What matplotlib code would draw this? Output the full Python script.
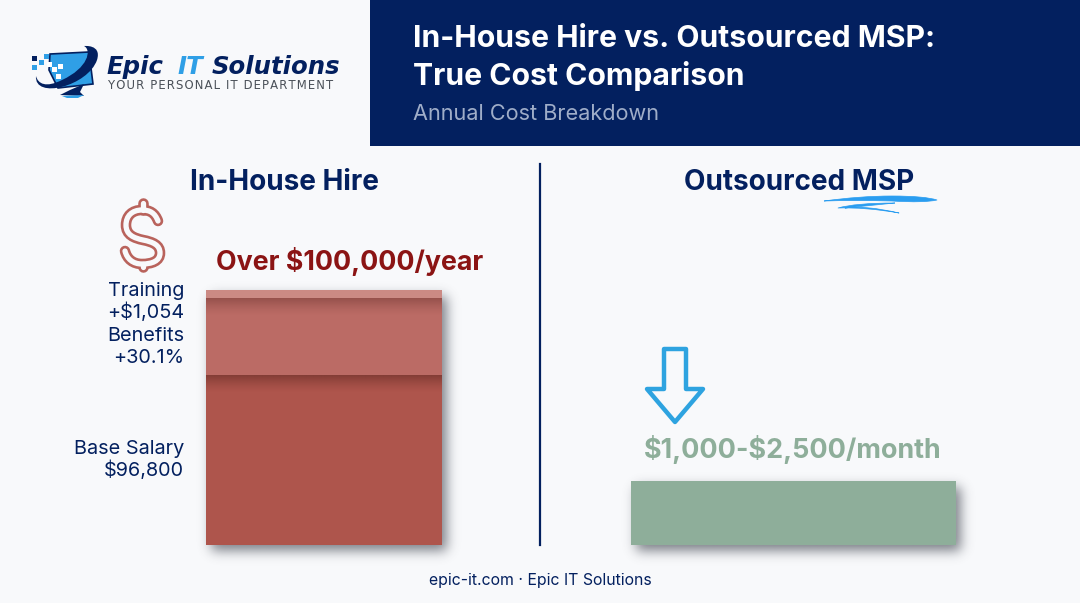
import math
import numpy as np
import matplotlib
matplotlib.use("Agg")
import matplotlib.pyplot as plt
from matplotlib.colors import to_rgb
from matplotlib.patches import Rectangle, Polygon, PathPatch
from matplotlib.path import Path

# bar heights (drawing units, the bars are not to scale with the labels)
inhouse_segments = ["Base Salary", "Benefits", "Training"]
inhouse_heights = [170, 77, 8]
inhouse_colors = ["#ae554c", "#bb6b65", "#cb8a84"]
msp_height = [64]
msp_color = "#8eae9a"

title_lines = ["In-House Hire vs. Outsourced MSP:", "True Cost Comparison"]
subtitle = "Annual Cost Breakdown"
left_head = "In-House Hire"
right_head = "Outsourced MSP"
left_total = r"Over \$100,000/year"
right_total = r"\$1,000-\$2,500/month"
left_labels = ["Training\n+\\$1,054", "Benefits\n+30.1%", "Base Salary\n\\$96,800"]
footer = "epic-it.com · Epic IT Solutions"

NAVY = "#03205f"
BG = "#f8f9fb"
BLUE = "#2f9fe6"
plt.rcParams["font.family"] = ["Inter", "DejaVu Sans"]

fig = plt.figure(figsize=(10.8, 6.03), dpi=100, facecolor=BG)


def pixel_axes(z):
    a = fig.add_axes([0, 0, 1, 1], zorder=z)
    a.axis("off")
    a.patch.set_alpha(0)
    return a


def set_pixels(a):
    a.set_xlim(0, 1080)
    a.set_ylim(603, 0)


ax = pixel_axes(1)
top = pixel_axes(3)

# bars axes: baseline at the bottom of the bars
bar_ax = fig.add_axes([0, (603 - 545) / 603, 1, 545 / 603], zorder=2)
bar_ax.set_xlim(0, 1080)
bar_ax.set_ylim(0, 545)
bar_ax.axis("off")
bar_ax.patch.set_alpha(0)

erf = np.vectorize(math.erf)


def soft_shadow(a, x0, y0, x1, y1, dx=5, dy=6, sigma=8.5, strength=0.66):
    # blurred rectangle, offset to the lower right
    xs = np.arange(x0 - 25, x1 + 40)
    ys = np.arange(y0 - 25, y1 + 40)
    sx = 0.5 * (erf((xs - x0 - dx) / sigma) - erf((xs - x1 - dx) / sigma))
    sy = 0.5 * (erf((ys - y0 - dy) / sigma) - erf((ys - y1 - dy) / sigma))
    img = np.zeros((len(ys), len(xs), 4))
    img[..., :3] = to_rgb("#3a3f4a")
    img[..., 3] = strength * np.outer(sy, sx)
    a.imshow(img, extent=(xs[0], xs[-1], ys[-1], ys[0]), aspect="auto", zorder=0, interpolation="bilinear")


def inner_shade(a, x0, x1, y0, depth, alpha):
    # dark band fading downwards under a segment edge
    ramp = np.linspace(1, 0, depth) ** 1.4
    img = np.zeros((depth, 1, 4))
    img[..., :3] = to_rgb("#4a1c18")
    img[:, 0, 3] = alpha * ramp
    a.imshow(img, extent=(x0, x1, y0 + depth, y0), aspect="auto", interpolation="bilinear")


# header
ax.add_patch(Rectangle((370, 0), 710, 146, fc=NAVY, ec="none"))
ax.text(413, 39, title_lines[0], color="white", fontsize=21.7, fontweight="bold", va="center", ha="left")
ax.text(413, 76, title_lines[1], color="white", fontsize=21.7, fontweight="bold", va="center", ha="left")
ax.text(413, 114, subtitle, color="#9fadc8", fontsize=15.6, va="center", ha="left")

# logo
ax.add_patch(Polygon([(50, 54), (89, 52), (93, 84), (58, 88), (49, 70)], fc=BLUE, ec=NAVY, lw=1.2, closed=True))
ax.add_patch(Polygon([(70, 90), (84, 84), (80, 92), (84, 96), (60, 95)], fc=NAVY, ec="none"))
ax.add_patch(Polygon([(62, 96), (84, 95), (78, 98), (67, 98)], fc=BLUE, ec="none"))
swoosh = Path([(36, 76), (34, 100), (88, 86), (97, 60), (102, 44), (84, 46), (84, 46),
               (92, 50), (88, 68), (62, 80), (46, 88), (38, 84), (36, 76)],
              [Path.MOVETO, Path.CURVE4, Path.CURVE4, Path.CURVE4, Path.CURVE4, Path.CURVE4, Path.LINETO,
               Path.CURVE4, Path.CURVE4, Path.CURVE4, Path.CURVE4, Path.CURVE4, Path.CURVE4])
ax.add_patch(PathPatch(swoosh, fc=NAVY, ec="none"))
for px, py, c in [(32, 56, NAVY), (32, 65, BLUE), (39, 60, BLUE), (44, 54, BLUE),
                  (47, 62, "white"), (52, 67, "white"), (58, 64, "white"), (56, 74, "white")]:
    ax.add_patch(Rectangle((px, py), 5, 5, fc=c, ec="none"))
for x, word, col in [(106, "Epic", NAVY), (177, "IT", BLUE), (212, "Solutions", NAVY)]:
    ax.text(x, 67, word, color=col, fontsize=17.6, fontweight="bold", style="italic", va="center",
            family=["DejaVu Sans"])
ax.text(108, 85.5, "\u200a".join("YOUR PERSONAL IT DEPARTMENT"), color="#4a5058", fontsize=8.4, va="center",
        ha="left", family=["DejaVu Sans"])

# column heads and divider
ax.text(284, 182, left_head, color=NAVY, fontsize=20.1, fontweight="bold", ha="center", va="center")
ax.text(799, 182, right_head, color=NAVY, fontsize=20.1, fontweight="bold", ha="center", va="center")
ax.plot([540, 540], [164, 545], color=NAVY, lw=1.6)

# hand drawn underline
under = Path([(824, 201), (860, 196), (892, 196), (925, 196), (937, 200), (925, 203), (892, 201),
              (855, 200), (824, 201),
              (895, 203), (855, 203), (838, 208), (865, 207), (899, 213), (865, 205), (845, 208), (895, 203)],
             [Path.MOVETO, Path.CURVE3, Path.CURVE3, Path.CURVE3, Path.CURVE3, Path.CURVE3, Path.CURVE3,
              Path.CURVE3, Path.CURVE3,
              Path.MOVETO, Path.CURVE3, Path.CURVE3, Path.CURVE3, Path.CURVE3, Path.CURVE3, Path.CURVE3,
              Path.LINETO])
ax.add_patch(PathPatch(under, fc="#2a9df0", ec="#2a9df0", lw=0.5, joinstyle="round"))

# dollar icon, a thick stroke with a thinner background stroke over it
s_curve = Path([(158, 221), (155, 213), (150, 210), (142, 210), (132, 210), (126, 216), (126, 225),
                (126, 235), (134, 238), (143, 240), (153, 242), (160, 245), (160, 253),
                (160, 261), (152, 264), (142, 264), (133, 264), (127, 259), (125, 251)],
               [Path.MOVETO] + [Path.CURVE4] * 18)
for z, lw, col in [(3, 7.6, "#b9635c"), (4, 3.8, BG)]:
    ax.plot([142.7, 142.7], [203, 210], color=col, lw=lw, solid_capstyle="round", zorder=z)
    ax.plot([142.7, 142.7], [264, 267], color=col, lw=lw, solid_capstyle="round", zorder=z)
    ax.add_patch(PathPatch(s_curve, fc="none", ec=col, lw=lw, capstyle="round", zorder=z))

# totals
ax.text(349.5, 261, left_total, color="#8b1414", fontsize=19.3, fontweight="bold", ha="center", va="center")
ax.text(793, 450, right_total, color=msp_color, fontsize=19.4, fontweight="bold", ha="center", va="center")

# side labels
ax.text(184, 302, left_labels[0], color=NAVY, fontsize=14.3, ha="right", va="center", linespacing=1.22)
ax.text(184, 347, left_labels[1], color=NAVY, fontsize=14.3, ha="right", va="center", linespacing=1.22)
ax.text(184, 460, left_labels[2], color=NAVY, fontsize=14.3, ha="right", va="center", linespacing=1.22)

# arrow
arrow = [(664, 349), (686, 349), (686, 389), (703, 389), (675, 422), (647, 389), (664, 389)]
ax.add_patch(Polygon(arrow, closed=True, fc="none", ec="#2ea3e0", lw=3.2, joinstyle="round"))

# shadows go under the bars
soft_shadow(ax, 206, 290, 442, 545)
soft_shadow(ax, 631, 481, 956, 545)
set_pixels(ax)

# footer
ax.text(540, 580, footer, color=NAVY, fontsize=11.4, ha="center", va="center")

# bars
bottoms = np.concatenate([[0], np.cumsum(inhouse_heights)[:-1]])
for h, b, c in zip(inhouse_heights, bottoms, inhouse_colors):
    bar_ax.bar(324, h, width=236, bottom=b, color=c, zorder=3)
bar_ax.bar(793.5, msp_height, width=325, color=msp_color, zorder=3)

# shading under the segment edges, over the bars
inner_shade(top, 206, 442, 375, 18, 0.42)
inner_shade(top, 206, 442, 298, 18, 0.32)
set_pixels(top)

fig.savefig("out.png", dpi=100, facecolor=BG)
